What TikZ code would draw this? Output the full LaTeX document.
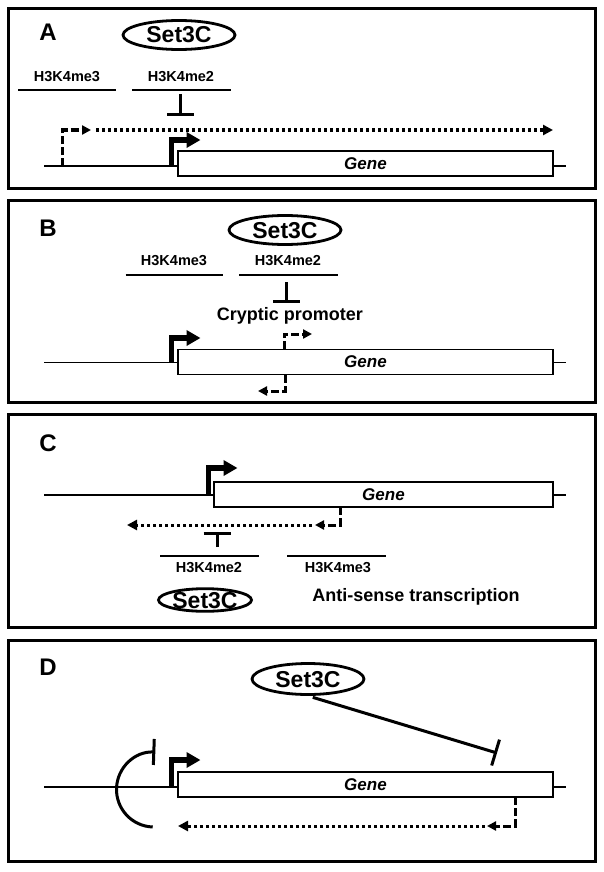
\documentclass[tikz,border=0pt]{standalone}
\usepackage{fontspec}
\setmainfont{Liberation Sans}
\usetikzlibrary{arrows.meta,shapes.geometric}
\tikzset{%
  panel/.style={draw, line width=3pt, minimum width=587pt, inner sep=0pt},
  panel label/.style={font=\fontsize{24}{24}\selectfont\bfseries, inner sep=0pt},
  complex/.style={
    ellipse, draw, line width=2.8pt, inner sep=0pt,
    minimum width=112pt, minimum height=29pt,
    text height=16pt, text depth=0pt,
    font=\fontsize{23}{23}\selectfont\bfseries
  },
  histmark/.style={font=\fontsize{14.5}{14.5}\selectfont\bfseries, inner sep=0pt},
  histline/.style={line width=2.2pt},
  gene/.style={draw, fill=white, line width=1.6pt, minimum height=25pt, inner sep=0pt,
    font=\fontsize{17}{17}\selectfont\bfseries\itshape},
  dna/.style={line width=1.5pt},
  tss/.style={line width=5.5pt, -{Triangle[length=14pt,width=15pt]}},
  cryptic/.style={line width=3pt, dash pattern=on 8pt off 3pt, -{Triangle[length=9pt,width=9pt]}},
  readthrough/.style={line width=3pt, dash pattern=on 3pt off 3pt, -{Triangle[length=10pt,width=10pt]}},
  block/.style={line width=3pt, -{Bar[width=27pt]}},
  caption/.style={font=\fontsize{18}{18}\selectfont\bfseries, inner sep=0pt},
}

\begin{document}
\begin{tikzpicture}[x=1pt, y=-1pt]
\useasboundingbox (0,0) rectangle (604,872);

% frames
\foreach \p/\c/\h/\ly in {A/98.5/180/32, B/301.5/202/228, C/521/213/443, D/751/221/667}
{
 \node [panel, minimum height=\h] (panel-\p) at (302,\c) {};
 \node [panel label] (label-\p) at (48,\ly) {\p};
}

% chromatin and gene body
\foreach \p/\y in {A/166, B/362.5, C/495, D/787}
{
 \coordinate (dna-\p-start) at (44,\y);
 \coordinate (dna-\p-end) at (566,\y);
 \draw [dna] (dna-\p-start) -- (dna-\p-end);
}
\foreach \p/\x/\y/\w in {A/365.5/163.5/375, B/365.5/362/375, C/383.5/494.5/339, D/365.5/784.5/375}
  \node [gene, minimum width=\w] (gene-\p) at (\x,\y) {Gene};

% main promoters
\foreach \p/\x/\y/\t in {A/171.5/166/140, B/171.5/362.5/338, C/208.5/495/468, D/171.5/787/760}
{
 \coordinate (tss-\p) at (\x,\y);
 \coordinate (tss-\p-top) at (\x,\t);
 \coordinate (tss-\p-tip) at (\x+29,\t);
 \draw [tss] (tss-\p) -- (tss-\p-top) -- (tss-\p-tip);
}

%%%%%%%%%%%%%%%%%%%%%%%%%%%%%%%%%%%%%%%%%%%%%%%%%%%%%%%%%%%%%%%%%%%%%%%%%%%%%
% A

\node [complex] (set3c-A) at (179,35) {Set3C};
\node [histmark] (me3-A) at (67,77) {H3K4me3};
\node [histmark] (me2-A) at (181,77) {H3K4me2};
\draw [histline] (18,90) -- (116,90);
\draw [histline] (132,90) -- (231,90);

\coordinate (me2-A-bar) at (180,94);
\coordinate (block-A) at (180,116);
\draw [block] (me2-A-bar) -- (block-A);

\coordinate (crypt-A) at (62.5,166);
\coordinate (crypt-A-top) at (62.5,130);
\coordinate (crypt-A-tip) at (91,130);
\draw [cryptic] (crypt-A) -- (crypt-A-top) -- (crypt-A-tip);
\coordinate (read-A-start) at (96,130);
\coordinate (read-A-end) at (553,130);
\draw [readthrough] (read-A-start) -- (read-A-end);

%%%%%%%%%%%%%%%%%%%%%%%%%%%%%%%%%%%%%%%%%%%%%%%%%%%%%%%%%%%%%%%%%%%%%%%%%%%%%
% B

\node [complex] (set3c-B) at (285,230) {Set3C};
\node [histmark] (me3-B) at (174,261) {H3K4me3};
\node [histmark] (me2-B) at (288,261) {H3K4me2};
\draw [histline] (125.5,275) -- (223,275);
\draw [histline] (239,275) -- (338,275);

\coordinate (me2-B-bar) at (286,282);
\coordinate (block-B) at (286,303);
\draw [block] (me2-B-bar) -- (block-B);
\node [caption] (cryptic-B) at (290,316) {Cryptic promoter};

\coordinate (sense-B) at (284,349);
\coordinate (sense-B-top) at (284,334);
\coordinate (sense-B-tip) at (312,334);
\draw [cryptic] (sense-B) -- (sense-B-top) -- (sense-B-tip);
\coordinate (anti-B) at (285,375);
\coordinate (anti-B-bot) at (285,391);
\coordinate (anti-B-tip) at (258,391);
\draw [cryptic] (anti-B) -- (anti-B-bot) -- (anti-B-tip);

%%%%%%%%%%%%%%%%%%%%%%%%%%%%%%%%%%%%%%%%%%%%%%%%%%%%%%%%%%%%%%%%%%%%%%%%%%%%%
% C

\coordinate (anti-C) at (340,507);
\coordinate (anti-C-bot) at (340,525);
\coordinate (anti-C-tip) at (315,525);
\draw [cryptic] (anti-C) -- (anti-C-bot) -- (anti-C-tip);
\coordinate (read-C-start) at (312,525);
\coordinate (read-C-end) at (127,525);
\draw [readthrough] (read-C-start) -- (read-C-end);

\coordinate (me2-C-bar) at (217,547);
\coordinate (block-C) at (217,532);
\draw [block] (me2-C-bar) -- (block-C);

\draw [histline] (160,556) -- (259,556);
\draw [histline] (287,556) -- (386,556);
\node [histmark] (me2-C) at (209,568) {H3K4me2};
\node [histmark] (me3-C) at (338,568) {H3K4me3};

\node [complex, minimum width=93pt, minimum height=22pt] (set3c-C) at (205,600) {Set3C};
\node [caption] (antisense-C) at (416,597) {Anti-sense transcription};

%%%%%%%%%%%%%%%%%%%%%%%%%%%%%%%%%%%%%%%%%%%%%%%%%%%%%%%%%%%%%%%%%%%%%%%%%%%%%
% D

\node [complex, minimum height=31pt] (set3c-D) at (308,679) {Set3C};
\coordinate (block-D) at (497,753);
\draw [block, shorten <=5pt] (set3c-D.south) -- (block-D);

\coordinate (anti-D) at (515,797);
\coordinate (anti-D-bot) at (515,826);
\coordinate (anti-D-tip) at (487,826);
\draw [cryptic] (anti-D) -- (anti-D-bot) -- (anti-D-tip);
\coordinate (read-D-start) at (485,826);
\coordinate (read-D-end) at (178,826);
\draw [readthrough] (read-D-start) -- (read-D-end);

\coordinate (loop-D) at (154,789.5);
\draw [block, -{Bar[width=26pt]}] ([shift={(92:37.5)}]loop-D) arc [start angle=92, end angle=272, radius=37.5];

\end{tikzpicture}
\end{document}
